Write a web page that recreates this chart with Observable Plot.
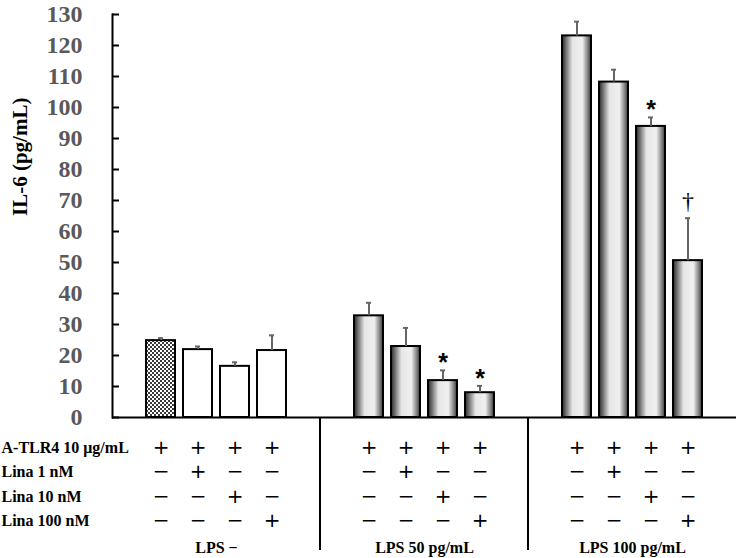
<!DOCTYPE html>
<html>
<head>
<meta charset="utf-8">
<script src="https://cdn.jsdelivr.net/npm/d3@7"></script>
<script src="https://cdn.jsdelivr.net/npm/@observablehq/plot@0.6"></script>
<style>
  body { margin: 0; background: #fff; }
  #chart { width: 736px; height: 558px; }
</style>
</head>
<body>
<div id="chart"></div>
<script>
// ---- data ----
const groups = ["LPS −", "LPS 50 pg/mL", "LPS 100 pg/mL"];
const conditions = ["1", "2", "3", "4"];
const rowLabels = ["A-TLR4 10 μg/mL", "Lina 1 nM", "Lina 10 nM", "Lina 100 nM"];
const aTLR4   = ["+", "+", "+", "+"];
const lina1   = ["−", "+", "−", "−"];
const lina10  = ["−", "−", "+", "−"];
const lina100 = ["−", "−", "−", "+"];
const means = [24.8, 21.9, 16.5, 21.6,  32.8, 22.9, 11.9, 8.0,  123.1, 108.2, 93.9, 50.6];
const sds   = [0.8, 1.0, 1.3, 4.9,      4.2, 6.0, 3.3, 2.2,     4.6, 4.0, 2.9, 13.7];
const sigMarks = ["", "", "", "",  "", "", "*", "*",  "", "", "*", "†"];
const yTicks = [0, 10, 20, 30, 40, 50, 60, 70, 80, 90, 100, 110, 120, 130];
const yLabel = "IL-6 (pg/mL)";

// ---- tables built from the arrays ----
const bars = means.map((m, k) => ({
  k,
  group: groups[Math.floor(k / conditions.length)],
  cond: conditions[k % conditions.length],
  mean: m,
  top: m + sds[k],
  mark: sigMarks[k]
}));
const tableRows = [aTLR4, lina1, lina10, lina100];
const cells = tableRows.map((row) =>
  groups.flatMap((g) => conditions.map((c, i) => ({group: g, cond: c, sym: row[i]})))
);

const serif = "'Liberation Serif', 'Times New Roman', serif";
const symFont = "'DejaVu Sans', sans-serif";
const rowDy = [30.5, 54.5, 79, 103];

const marks = [
  Plot.frame({anchor: "left", facetAnchor: "left", strokeWidth: 2}),
  Plot.axisY(yTicks, {
    anchor: "left", tickSize: -7, tickPadding: 37, label: null,
    stroke: "black", strokeWidth: 2,
    fill: "#595959", fontSize: 24, fontWeight: "bold", fontFamily: serif
  }),
  Plot.text([yLabel], {
    fx: () => groups[0], frameAnchor: "left", lineAnchor: "middle", rotate: -90, dx: -92,
    fontSize: 21, fontWeight: "bold", fontFamily: serif, fill: "black"
  }),
  // bars
  Plot.barY(bars, {filter: (d) => d.k === 0, fx: "group", x: "cond", y: "mean",
    fill: "url(#hatch)", stroke: "black", strokeWidth: 2}),
  Plot.barY(bars, {filter: (d) => d.k > 0 && d.group === groups[0], fx: "group", x: "cond", y: "mean",
    fill: "white", stroke: "black", strokeWidth: 2}),
  Plot.barY(bars, {filter: (d) => d.group !== groups[0], fx: "group", x: "cond", y: "mean",
    fill: "url(#barGrad)", stroke: "black", strokeWidth: 2}),
  // error bars
  Plot.ruleX(bars, {fx: "group", x: "cond", y1: "mean", y2: "top", stroke: "#666", strokeWidth: 2}),
  Plot.tickY(bars, {fx: "group", x: "cond", y: "top", stroke: "#666", strokeWidth: 2, insetLeft: 12, insetRight: 12}),
  // significance marks
  Plot.text(bars, {filter: (d) => d.mark === "*", fx: "group", x: "cond", y: "top", text: "mark",
    dy: -7, fontSize: 25, fontWeight: "bold", fontFamily: "'Liberation Sans', Arial, sans-serif", fill: "black"}),
  Plot.text(bars, {filter: (d) => d.mark === "†", fx: "group", x: "cond", y: "top", text: "mark",
    dy: -17, fontSize: 24, fontFamily: serif, fill: "black"}),
  // baseline
  Plot.ruleY([0], {strokeWidth: 2}),
  // condition table
  ...cells.map((rowCells, j) => Plot.text(rowCells, {
    fx: "group", x: "cond", text: "sym", frameAnchor: "bottom", lineAnchor: "middle", dy: rowDy[j],
    fontSize: 20, fontFamily: symFont, fill: "black"
  })),
  ...rowLabels.map((lab, j) => Plot.text([lab], {
    fx: () => groups[0], frameAnchor: "bottom-left", lineAnchor: "middle", textAnchor: "start", dx: -111, dy: rowDy[j],
    fontSize: 16, fontWeight: "bold", fontFamily: serif, fill: "black"
  })),
  Plot.text(groups, {
    fx: (d) => d, text: (d) => d, frameAnchor: "bottom", lineAnchor: "middle", dy: 130,
    fontSize: 16, fontWeight: "bold", fontFamily: serif, fill: "black"
  })
];

const chart = Plot.plot({
  width: 736,
  height: 558,
  marginTop: 14,
  marginRight: 0,
  marginBottom: 141,
  marginLeft: 112,
  facet: {marginTop: 0, marginRight: 0, marginBottom: 0, marginLeft: 0},
  fx: {domain: groups, padding: 0, axis: null, label: null},
  x: {type: "band", domain: conditions, paddingInner: 0.21, paddingOuter: 0.842, axis: null, label: null},
  y: {domain: [0, 130], axis: null, label: null},
  style: {fontFamily: serif, background: "white", color: "black", overflow: "visible"},
  marks
});

// gradient + checker pattern used as bar fills
chart.insertAdjacentHTML("afterbegin", `
<defs>
  <linearGradient id="barGrad" x1="0" x2="1" y1="0" y2="0">
    <stop offset="0" stop-color="#1a1a1a"/>
    <stop offset="0.06" stop-color="#484848"/>
    <stop offset="0.36" stop-color="#e6e6e6"/>
    <stop offset="0.7" stop-color="#f0f0f0"/>
    <stop offset="0.9" stop-color="#7a7a7a"/>
    <stop offset="1" stop-color="#333"/>
  </linearGradient>
  <pattern id="hatch" width="4" height="4" patternUnits="userSpaceOnUse">
    <rect width="4" height="4" fill="#fff"/>
    <rect width="2" height="2" fill="#3a3a3a"/>
    <rect x="2" y="2" width="2" height="2" fill="#3a3a3a"/>
  </pattern>
</defs>`);

// group separators below the baseline, placed with Plot's own scales
const fxScale = chart.scale("fx");
const yScale = chart.scale("y");
const y0 = yScale.apply(0);
d3.select(chart).append("g")
  .selectAll("line")
  .data(groups.slice(1))
  .join("line")
  .attr("x1", (g) => fxScale.apply(g))
  .attr("x2", (g) => fxScale.apply(g))
  .attr("y1", y0)
  .attr("y2", y0 + 133)
  .attr("stroke", "black")
  .attr("stroke-width", 2);

document.getElementById("chart").appendChild(chart);
</script>
</body>
</html>
